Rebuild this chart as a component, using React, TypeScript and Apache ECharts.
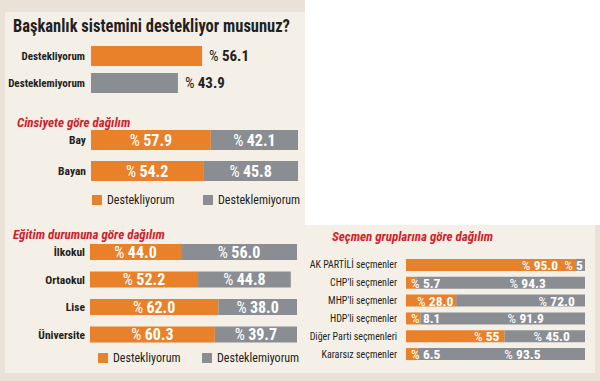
import React, { useEffect, useRef } from "react";
import * as echarts from "echarts";

const ORANGE = "#e8812a";
const GRAY = "#8a8e93";
const RED = "#d21f2b";
const DARK = "#231f20";
const OUTER = "#ebe2d7";
const INNER = "#f4f0e7";
const FONT = "'Liberation Sans Narrow', 'Roboto Condensed', 'DejaVu Sans Condensed', 'Liberation Sans', sans-serif";

const titleText = "Başkanlık sistemini destekliyor musunuz?";
const overallCategories = ["Destekliyorum", "Desteklemiyorum"];
const overallValues = [56.1, 43.9];

const genderTitle = "Cinsiyete göre dağılım";
const genderCategories = ["Bay", "Bayan"];
const genderYes = [57.9, 54.2];
const genderNo = [42.1, 45.8];

const eduTitle = "Eğitim durumuna göre dağılım";
const eduCategories = ["İlkokul", "Ortaokul", "Lise", "Üniversite"];
const eduYes = [44.0, 52.2, 62.0, 60.3];
const eduNo = [56.0, 44.8, 38.0, 39.7];

const voterTitle = "Seçmen gruplarına göre dağılım";
const voterCategories = [
  "AK PARTİLİ seçmenler",
  "CHP'li seçmenler",
  "MHP'li seçmenler",
  "HDP'li seçmenler",
  "Diğer Parti seçmenleri",
  "Kararsız seçmenler",
];
const voterYes = [95.0, 5.7, 28.0, 8.1, 55, 6.5];
const voterNo = [5, 94.3, 72.0, 91.9, 45.0, 93.5];
const voterYesText = ["95.0", "5.7", "28.0", "8.1", "55", "6.5"];
const voterNoText = ["5", "94.3", "72.0", "91.9", "45.0", "93.5"];

const legendNames = ["Destekliyorum", "Desteklemiyorum"];

// label placement (style only)
const voterYesPos = ["insideRight", "insideLeft", "inside", "insideLeft", "insideRight", "insideLeft"];
const voterYesOffset = [[-13, 0], [0, 0], [4, 0], [0, 0], [0, 0], [0, 0]];
const voterNoOffset = [[-7, 0], [27, 0], [36, 0], [23, 0], [7, 0], [21, 0]];

const pctRich = (size: number, color: string) => ({
  p: { fontSize: size, fontFamily: FONT, color, fontWeight: "normal" as const },
  v: { fontSize: size, fontFamily: FONT, color, fontWeight: "bold" as const },
});

export default function App() {
  const ref = useRef<HTMLDivElement>(null);
  useEffect(() => {
    if (!ref.current) return;
    const chart = echarts.init(ref.current, undefined, { renderer: "svg" });

    const valueAxis = (gridIndex: number) => ({
      type: "value" as const,
      gridIndex,
      min: 0,
      max: 100,
      show: false,
    });
    const catAxis = (gridIndex: number, data: string[], fontSize: number, bold: boolean, margin: number) => ({
      type: "category" as const,
      gridIndex,
      data,
      inverse: true,
      axisLine: { show: false },
      axisTick: { show: false },
      splitLine: { show: false },
      axisLabel: {
        fontSize,
        fontFamily: FONT,
        fontWeight: bold ? "bold" : "normal",
        color: DARK,
        margin,
      },
    });

    const insideLabel = (size: number) => ({
      show: true,
      position: "inside",
      formatter: (p: any) => `{p|%} {v|${Number(p.value).toFixed(1)}}`,
      rich: pctRich(size, "#ffffff"),
    });

    const legendCommon = {
      icon: "rect",
      itemWidth: 10,
      itemHeight: 10,
      padding: 0,
      selectedMode: false,
      textStyle: { fontSize: 12, fontFamily: FONT, color: DARK },
    };

    const option: any = {
      animation: false,
      backgroundColor: OUTER,
      graphic: {
        elements: [
          { type: "rect", silent: true, z: 0, shape: { x: 5, y: 12, width: 300, height: 361 }, style: { fill: INNER } },
          { type: "rect", silent: true, z: 0, shape: { x: 305, y: 225, width: 290, height: 148 }, style: { fill: INNER } },
          { type: "rect", silent: true, z: 0, shape: { x: 305, y: 0, width: 295, height: 225 }, style: { fill: "#ffffff" } },
          {
            type: "text", silent: true, z: 1, x: 13, y: 26, scaleX: 0.915,
            style: { text: titleText, fill: DARK, fontSize: 18, fontWeight: "bold", fontFamily: FONT, verticalAlign: "middle" },
          },
          {
            type: "text", silent: true, z: 1, x: 17, y: 122,
            style: { text: genderTitle, fill: RED, fontSize: 13, fontWeight: "bold", fontStyle: "italic", fontFamily: FONT, verticalAlign: "middle" },
          },
          {
            type: "text", silent: true, z: 1, x: 13, y: 234,
            style: { text: eduTitle, fill: RED, fontSize: 13, fontWeight: "bold", fontStyle: "italic", fontFamily: FONT, verticalAlign: "middle" },
          },
          {
            type: "text", silent: true, z: 1, x: 332, y: 236,
            style: { text: voterTitle, fill: RED, fontSize: 13, fontWeight: "bold", fontStyle: "italic", fontFamily: FONT, verticalAlign: "middle" },
          },
        ],
      },
      legend: [
        { ...legendCommon, data: [legendNames[0]], left: 92, top: 194 },
        { ...legendCommon, data: [legendNames[1]], left: 203, top: 194 },
        { ...legendCommon, data: [legendNames[0]], left: 98, top: 352 },
        { ...legendCommon, data: [legendNames[1]], left: 202, top: 352 },
      ],
      grid: [
        { left: 91, width: 198, top: 42.5, height: 54 },
        { left: 91, width: 207, top: 124.5, height: 62 },
        { left: 90, width: 207, top: 238.25, height: 110 },
        { left: 406, width: 179, top: 256, height: 107 },
      ],
      xAxis: [valueAxis(0), valueAxis(1), valueAxis(2), valueAxis(3)],
      yAxis: [
        catAxis(0, overallCategories, 11, true, 6),
        catAxis(1, genderCategories, 11.5, true, 5),
        catAxis(2, eduCategories, 11.5, true, 5),
        catAxis(3, voterCategories, 10, false, 9),
      ],
      series: [
        {
          name: "Genel",
          type: "bar",
          xAxisIndex: 0,
          yAxisIndex: 0,
          barWidth: 20,
          data: overallValues.map((v, i) => ({ value: v, itemStyle: { color: i === 0 ? ORANGE : GRAY } })),
          label: {
            show: true,
            position: "right",
            distance: 7,
            formatter: (p: any) => `{p|%} {v|${Number(p.value).toFixed(1)}}`,
            rich: pctRich(15, DARK),
          },
        },
        {
          name: legendNames[0], type: "bar", stack: "gender", xAxisIndex: 1, yAxisIndex: 1, barWidth: 20,
          itemStyle: { color: ORANGE }, data: genderYes, label: insideLabel(16),
        },
        {
          name: legendNames[1], type: "bar", stack: "gender", xAxisIndex: 1, yAxisIndex: 1, barWidth: 20,
          itemStyle: { color: GRAY }, data: genderNo, label: insideLabel(16),
        },
        {
          name: legendNames[0], type: "bar", stack: "edu", xAxisIndex: 2, yAxisIndex: 2, barWidth: 16,
          itemStyle: { color: ORANGE }, data: eduYes, label: insideLabel(16),
        },
        {
          name: legendNames[1], type: "bar", stack: "edu", xAxisIndex: 2, yAxisIndex: 2, barWidth: 16,
          itemStyle: { color: GRAY }, data: eduNo, label: insideLabel(16),
        },
        {
          name: legendNames[0], type: "bar", stack: "voter", xAxisIndex: 3, yAxisIndex: 3, barWidth: 12,
          itemStyle: { color: ORANGE },
          data: voterYes.map((v, i) => ({
            value: v,
            label: { position: voterYesPos[i], offset: voterYesOffset[i] },
          })),
          label: {
            show: true,
            formatter: (p: any) => `{p|%} {v|${voterYesText[p.dataIndex]}}`,
            rich: pctRich(13.5, "#ffffff"),
          },
        },
        {
          name: legendNames[1], type: "bar", stack: "voter", xAxisIndex: 3, yAxisIndex: 3, barWidth: 12,
          itemStyle: { color: GRAY },
          data: voterNo.map((v, i) => ({
            value: v,
            label: { position: "inside", offset: voterNoOffset[i] },
          })),
          label: {
            show: true,
            formatter: (p: any) => `{p|%} {v|${voterNoText[p.dataIndex]}}`,
            rich: pctRich(13.5, "#ffffff"),
          },
        },
      ],
    };

    chart.setOption(option);
    return () => chart.dispose();
  }, []);

  return (
    <div
      ref={ref}
      style={{ position: "absolute", left: 0, top: 0, width: 600, height: 381 }}
    />
  );
}
